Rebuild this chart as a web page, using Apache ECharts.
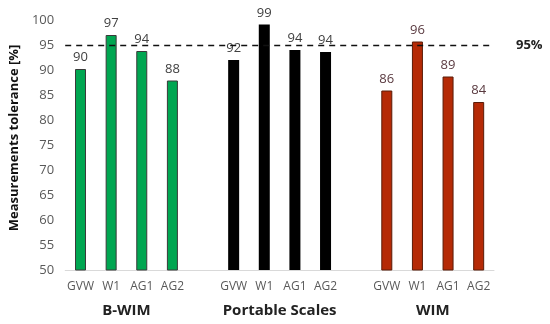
<!DOCTYPE html>
<html><head><meta charset="utf-8">
<script src="https://cdn.jsdelivr.net/npm/echarts@6/dist/echarts.min.js"></script>
<style>html,body{margin:0;padding:0;background:#fff}#c{width:550px;height:324px}</style>
</head><body><div id="c"></div>
<script>
const categories = ['GVW', 'W1', 'AG1', 'AG2'];
const groups = ['B-WIM', 'Portable Scales', 'WIM'];
const bwimValues = [90.2, 97.0, 93.8, 87.9];
const portableValues = [92.0, 99.1, 94.0, 93.6];
const wimValues = [85.9, 95.7, 88.7, 83.6];
const yTicks = [50, 55, 60, 65, 70, 75, 80, 85, 90, 95, 100];
const threshold = 95;

// build 14 slots: 4 + gap + 4 + gap + 4
const axisData = [];
groups.forEach((g, gi) => {
  categories.forEach(c => axisData.push(g + '|' + c));
  if (gi < groups.length - 1) axisData.push('gap' + gi);
});
function seriesFor(gi, vals) {
  return axisData.map(k => {
    const [g, c] = k.split('|');
    if (g !== groups[gi] || c === undefined) return null;
    return vals[categories.indexOf(c)];
  });
}
const colors = [
  {fill: '#00A651', border: '#3a3a3a', label: '#404040'},
  {fill: '#000000', border: '#000000', label: '#404040'},
  {fill: '#B52A06', border: '#5a1c08', label: '#5a3a40'}
];
const allVals = [bwimValues, portableValues, wimValues];
const chart = echarts.init(document.getElementById('c'));
const series = allVals.map((v, gi) => ({
  type: 'bar',
  name: groups[gi],
  data: seriesFor(gi, v),
  barWidth: 11,
  barGap: '-100%',
  itemStyle: {color: colors[gi].fill, borderColor: colors[gi].border, borderWidth: gi === 1 ? 0 : 1},
  label: {show: true, position: 'top', distance: 5, color: colors[gi].label, fontSize: 13,
    fontFamily: 'Open Sans', formatter: p => Math.round(p.value)},
  markLine: gi === 0 ? {
    symbol: 'none', silent: true,
    lineStyle: {type: [6, 5], color: '#111', width: 1.3},
    label: {position: 'end', formatter: '95%', fontWeight: 'bold', fontSize: 13, color: '#222',
      fontFamily: 'Open Sans', distance: 22},
    data: [{yAxis: threshold}]
  } : undefined
}));
chart.setOption({
  animation: false,
  grid: {left: 53, right: 56, top: 20, bottom: 54},
  xAxis: {
    type: 'category', data: axisData,
    axisLine: {lineStyle: {color: '#d9d9d9'}},
    axisTick: {show: false},
    axisLabel: {interval: 0, color: '#595959', fontSize: 12, fontFamily: 'Open Sans', margin: 11,
      formatter: v => v.indexOf('|') >= 0 ? v.split('|')[1] : ''}
  },
  yAxis: {
    type: 'value', min: yTicks[0], max: yTicks[yTicks.length - 1], interval: 5,
    splitLine: {show: false}, axisLine: {show: false}, axisTick: {show: false},
    axisLabel: {color: '#595959', fontSize: 13, fontFamily: 'Open Sans', margin: 11},
    name: 'Measurements tolerance [%]', nameLocation: 'middle', nameGap: 31,
    nameTextStyle: {fontWeight: 'bold', fontSize: 13, color: '#111', fontFamily: 'Open Sans',
      padding: [0, 0, 0, 14]}
  },
  series: series
});
// group labels below the category labels, centered on each group
const gl = [];
groups.forEach((g, gi) => {
  const first = axisData.indexOf(g + '|' + categories[0]);
  const last = axisData.indexOf(g + '|' + categories[categories.length - 1]);
  const x = (chart.convertToPixel({xAxisIndex: 0}, first) + chart.convertToPixel({xAxisIndex: 0}, last)) / 2;
  gl.push({type: 'text', x: x, y: 311, style: {text: g, fontSize: 15, fontWeight: 'bold',
    fill: '#222', fontFamily: 'Open Sans', textAlign: 'center', textVerticalAlign: 'middle'}});
});
chart.setOption({graphic: gl});
</script></body></html>
